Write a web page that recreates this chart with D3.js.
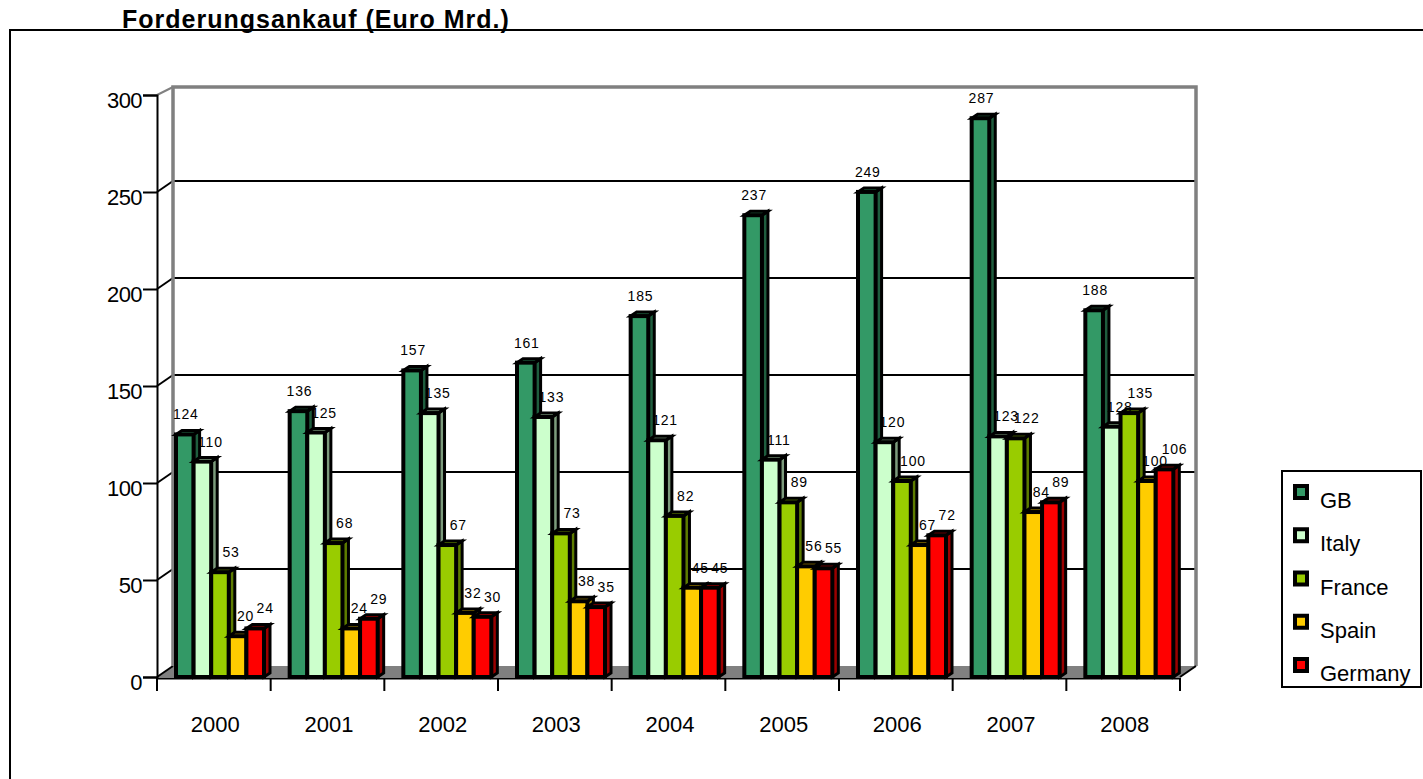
<!DOCTYPE html>
<html>
<head>
<meta charset="utf-8">
<script src="https://cdn.jsdelivr.net/npm/d3@7"></script>
<style>
  html, body { margin: 0; padding: 0; background: #fff; overflow: hidden; }
  text { font-family: "Liberation Sans", Arial, sans-serif; fill: #000; }
</style>
</head>
<body>
<svg id="chart" width="1423" height="779"></svg>
<script>
const years = ['2000', '2001', '2002', '2003', '2004', '2005', '2006', '2007', '2008'];
const seriesNames = ['GB', 'Italy', 'France', 'Spain', 'Germany'];
const seriesColors = ['#339966', '#ccffcc', '#99cc00', '#ffcc00', '#ff0000'];
const gb = [124, 136, 157, 161, 185, 237, 249, 287, 188];
const italy = [110, 125, 135, 133, 121, 111, 120, 123, 128];
const france = [53, 68, 67, 73, 82, 89, 100, 122, 135];
const spain = [20, 24, 32, 38, 45, 56, 67, 84, 100];
const germany = [24, 29, 30, 35, 45, 55, 72, 89, 106];
const seriesValues = [gb, italy, france, spain, germany];
const yTicks = [0, 50, 100, 150, 200, 250, 300];
const labelShift = [1, 8, 11, 8, 10];   // value labels sit right of their bar

const depthX = 16, depthY = 11;   // wall offset
const wallTopDrop = 8;
const barDepthX = 6, barDepthY = 4;
const barLift = 2;

const svg = d3.select('#chart');
const x = d3.scaleBand().domain(years).range([157, 1180]);
const inner = d3.scaleBand().domain(seriesNames).range([19, 107]);
const y = d3.scaleLinear().domain([0, 300]).range([677, 95]);

// outer frame, runs off the page on the right and bottom
svg.append('rect')
    .attr('x', 10).attr('y', 30)
    .attr('width', 1450).attr('height', 800)
    .attr('fill', 'none').attr('stroke', '#000').attr('stroke-width', 2);

svg.append('text')
    .attr('x', 122).attr('y', 28)
    .attr('font-size', 25).attr('font-weight', 'bold')
    .attr('letter-spacing', 1)
    .text('Forderungsankauf (Euro Mrd.)');

// floor
const floor = [[x.range()[0], y(0)], [x.range()[0] + depthX, y(0) - depthY],
    [x.range()[1] + depthX, y(0) - depthY], [x.range()[1], y(0)]];
svg.append('polygon')
    .attr('points', floor.join(' '))
    .attr('fill', '#808080');

// gridlines on the back wall
svg.selectAll('.grid')
    .data(yTicks.slice(1, -1))
  .enter().append('line')
    .attr('x1', x.range()[0] + depthX).attr('x2', x.range()[1] + depthX)
    .attr('y1', d => y(d) - depthY).attr('y2', d => y(d) - depthY)
    .attr('stroke', '#000').attr('stroke-width', 2);

// oblique ticks along the left wall
svg.selectAll('.oblique')
    .data(yTicks)
  .enter().append('line')
    .attr('x1', x.range()[0]).attr('x2', x.range()[0] + depthX)
    .attr('y1', d => y(d))
    .attr('y2', d => y(d) - (d === 300 ? wallTopDrop : depthY))
    .attr('stroke', d => d === 300 ? '#808080' : '#000').attr('stroke-width', 2);

// wall outline
const wall = [[x.range()[0] + depthX, y(0) - depthY], [x.range()[0] + depthX, y(300) - wallTopDrop],
    [x.range()[1] + depthX, y(300) - wallTopDrop], [x.range()[1] + depthX, y(0) - depthY]];
svg.append('polyline')
    .attr('points', wall.join(' '))
    .attr('fill', 'none').attr('stroke', '#808080').attr('stroke-width', 3.5);

// right floor corner
svg.append('line')
    .attr('x1', x.range()[1]).attr('x2', x.range()[1] + depthX)
    .attr('y1', y(0)).attr('y2', y(0) - depthY)
    .attr('stroke', '#000').attr('stroke-width', 2);

// axes
const yAxis = d3.axisLeft(y).tickValues(yTicks).tickSize(14).tickPadding(1);
const yG = svg.append('g').attr('transform', `translate(${x.range()[0]},0)`).call(yAxis);
yG.selectAll('text').attr('font-size', 22).attr('dy', '0.58em').attr('letter-spacing', -0.6);

const xAxis = d3.axisBottom(x).tickSize(0).tickPadding(42);
const xG = svg.append('g').attr('transform', `translate(0,${y(0) + 1})`).call(xAxis);
xG.selectAll('text').attr('font-size', 22).attr('dx', 1.5).attr('dy', '0.55em');
xG.selectAll('.edge')
    .data(years.concat('end'))
  .enter().append('line')
    .attr('class', 'edge')
    .attr('x1', d => d === 'end' ? x.range()[1] : x(d))
    .attr('x2', d => d === 'end' ? x.range()[1] : x(d))
    .attr('y1', 0).attr('y2', 13)
    .attr('stroke', '#000').attr('stroke-width', 2);
svg.selectAll('.domain, .tick line').attr('stroke', '#000').attr('stroke-width', 2);

// bars, drawn left to right so each one covers the side of the last
seriesNames.forEach((name, s) => {
    const color = d3.color(seriesColors[s]);
    const g = svg.append('g').attr('class', 'series');
    const bw = inner.bandwidth();
    years.forEach((year, i) => {
        const v = seriesValues[s][i];
        const x0 = x(year) + inner(name);
        const top = y(v) - barLift;
        const base = y(0);
        g.append('polygon')
            .attr('points', [[x0 + bw, top], [x0 + bw + barDepthX, top - barDepthY],
                [x0 + bw + barDepthX, base - barDepthY], [x0 + bw, base]].join(' '))
            .attr('fill', color.darker(1.4)).attr('stroke', '#000').attr('stroke-width', 3);
        g.append('polygon')
            .attr('points', [[x0, top], [x0 + barDepthX, top - barDepthY],
                [x0 + bw + barDepthX, top - barDepthY], [x0 + bw, top]].join(' '))
            .attr('fill', color.darker(0.7)).attr('stroke', '#000').attr('stroke-width', 3);
        g.append('rect')
            .attr('x', x0).attr('y', top)
            .attr('width', bw).attr('height', base - top)
            .attr('fill', color).attr('stroke', '#000').attr('stroke-width', 4);
    });
});

// value labels go on top of everything
seriesNames.forEach((name, s) => {
    svg.append('g').selectAll('text')
        .data(seriesValues[s])
      .enter().append('text')
        .attr('x', (d, i) => x(years[i]) + inner(name) + inner.bandwidth() / 2 + labelShift[s])
        .attr('y', d => y(d) - 17)
        .attr('text-anchor', 'middle')
        .attr('font-size', 14)
        .attr('letter-spacing', 0.8)
        .text(d => d);
});

// legend
const legend = svg.append('g');
legend.append('rect')
    .attr('x', 1282).attr('y', 471)
    .attr('width', 139).attr('height', 216)
    .attr('fill', '#fff').attr('stroke', '#000').attr('stroke-width', 2);
const legendY = d3.scalePoint().domain(seriesNames).range([492, 665]);
legend.selectAll('rect.key')
    .data(seriesNames)
  .enter().append('rect')
    .attr('class', 'key')
    .attr('x', 1295).attr('y', d => legendY(d) - 6)
    .attr('width', 12).attr('height', 12)
    .attr('fill', (d, i) => seriesColors[i])
    .attr('stroke', '#000').attr('stroke-width', 4);
legend.selectAll('text')
    .data(seriesNames)
  .enter().append('text')
    .attr('x', 1320).attr('y', d => legendY(d) + 16)
    .attr('font-size', 22)
    .text(d => d);
</script>
</body>
</html>
